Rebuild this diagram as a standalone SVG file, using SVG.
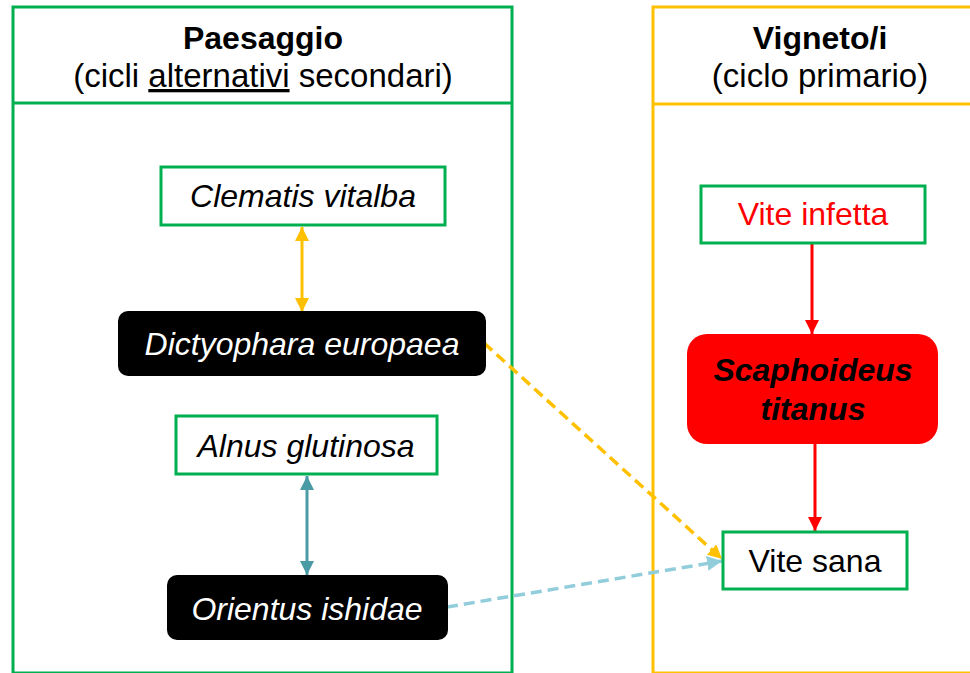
<svg xmlns="http://www.w3.org/2000/svg" width="970" height="673" viewBox="0 0 970 673">
<style>
text{font-family:"Liberation Sans",Arial,sans-serif;font-size:32px;text-anchor:middle}
.hdr{font-weight:bold}
.sub{font-size:33px}
.it{font-style:italic}
.gbox{fill:#fff;stroke:#00B050;stroke-width:3}
.bbox{fill:#000}
.wt{fill:#fff}
.dash{stroke-width:3.5;stroke-dasharray:11 6;fill:none}
.solid{stroke-width:3;fill:none}
</style>
<defs>
<marker id="aY" viewBox="0 0 10 10" refX="10" refY="5" markerUnits="userSpaceOnUse" markerWidth="14" markerHeight="14" orient="auto-start-reverse"><path d="M0,0 L10,5 L0,10 z" fill="#FFC000"/></marker>
<marker id="aT" viewBox="0 0 10 10" refX="10" refY="5" markerUnits="userSpaceOnUse" markerWidth="14" markerHeight="14" orient="auto-start-reverse"><path d="M0,0 L10,5 L0,10 z" fill="#4A9BA5"/></marker>
<marker id="aR" viewBox="0 0 10 10" refX="10" refY="5" markerUnits="userSpaceOnUse" markerWidth="14" markerHeight="14" orient="auto-start-reverse"><path d="M0,0 L10,5 L0,10 z" fill="#FF0000"/></marker>
<marker id="aB" viewBox="0 0 10 10" refX="10" refY="5" markerUnits="userSpaceOnUse" markerWidth="15" markerHeight="15" orient="auto-start-reverse"><path d="M0,0 L10,5 L0,10 z" fill="#92CDDC"/></marker>
</defs>
<rect width="970" height="673" fill="#fff"/>
<g id="panel-paesaggio">
<rect x="13" y="7" width="499" height="666" fill="none" stroke="#00B050" stroke-width="3"/>
<line x1="13" y1="103" x2="512" y2="103" stroke="#00B050" stroke-width="3"/>
<text class="hdr" x="263" y="49">Paesaggio</text>
<text class="sub" x="263" y="87">(cicli <tspan text-decoration="underline">alternativi</tspan> secondari)</text>
</g>
<g id="panel-vigneto">
<rect x="653" y="7" width="340" height="666" fill="none" stroke="#FFC000" stroke-width="3"/>
<line x1="653" y1="104" x2="970" y2="104" stroke="#FFC000" stroke-width="3"/>
<text class="hdr" x="820" y="49">Vigneto/i</text>
<text class="sub" x="820" y="87">(ciclo primario)</text>
</g>
<g id="connectors">
<line class="solid" x1="302" y1="227" x2="302" y2="312" stroke="#FFC000" marker-start="url(#aY)" marker-end="url(#aY)"/>
<line class="solid" x1="307" y1="476" x2="307" y2="575" stroke="#4A9BA5" marker-start="url(#aT)" marker-end="url(#aT)"/>
<line class="solid" x1="812" y1="243" x2="812" y2="334" stroke="#FF0000" marker-end="url(#aR)"/>
<line class="solid" x1="815" y1="444" x2="815" y2="531" stroke="#FF0000" marker-end="url(#aR)"/>
<line class="dash" x1="484" y1="343" x2="722" y2="559" stroke="#FFC000" marker-end="url(#aY)"/>
<line class="dash" x1="447" y1="607" x2="722" y2="561" stroke="#92CDDC" marker-end="url(#aB)"/>
</g>
<g id="clematis">
<rect class="gbox" x="161" y="167" width="284" height="58"/>
<text class="it" x="303" y="207">Clematis vitalba</text>
</g>
<g id="dictyophara">
<rect class="bbox" x="118" y="311" width="368" height="65" rx="10"/>
<text class="it wt" x="302" y="355">Dictyophara europaea</text>
</g>
<g id="alnus">
<rect class="gbox" x="176" y="416" width="261" height="58"/>
<text class="it" x="306" y="457">Alnus glutinosa</text>
</g>
<g id="orientus">
<rect class="bbox" x="167" y="575" width="281" height="65" rx="10"/>
<text class="it wt" x="307" y="620">Orientus ishidae</text>
</g>
<g id="vite-infetta">
<rect class="gbox" x="701" y="186" width="224" height="57"/>
<text x="813" y="225" fill="#FF0000">Vite infetta</text>
</g>
<g id="scaphoideus">
<rect x="687" y="334" width="251" height="110" rx="20" fill="#FF0000"/>
<text class="hdr it" x="813" y="381">Scaphoideus</text>
<text class="hdr it" x="813" y="420">titanus</text>
</g>
<g id="vite-sana">
<rect class="gbox" x="723" y="532" width="184" height="57"/>
<text x="815" y="572">Vite sana</text>
</g>
</svg>
